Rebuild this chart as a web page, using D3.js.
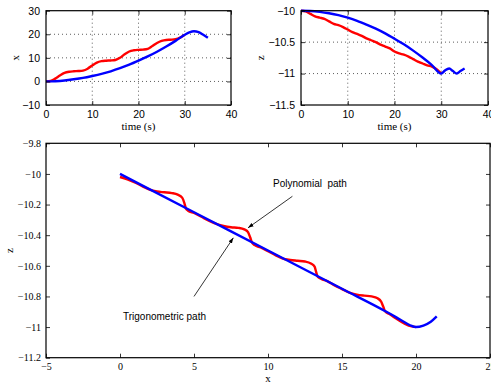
<!DOCTYPE html>
<html>
<head>
<meta charset="utf-8">
<script src="https://cdn.jsdelivr.net/npm/d3@7"></script>
<style>
  body { margin: 0; background: #fff; }
  svg { display: block; }
  .tick text { fill: #000; }
</style>
</head>
<body>
<svg id="chart" width="491" height="385"></svg>
<script>
// top-left: x vs time
const tBlueX = [0, 2, 4, 6, 8, 10, 12, 14, 16, 18, 20, 22, 24, 26, 28, 30, 31, 32, 33, 34, 35];
const xBlue  = [0, 0.1, 0.4, 0.9, 1.5, 2.3, 3.2, 4.3, 5.6, 7.1, 8.8, 10.6, 12.6, 14.8, 17.2, 19.8, 20.8, 21.3, 20.9, 19.8, 18.5];
const tRedX  = [0, 1, 2, 3, 4, 5, 6, 7, 8, 9, 10, 11, 12, 13, 14, 15, 16, 17, 18, 19, 20, 21, 22, 23, 24, 25, 26, 27, 28, 29, 30];
const xRed   = [0, 0.2, 1.2, 2.5, 3.6, 4.1, 4.3, 4.4, 4.6, 5.4, 6.8, 8.0, 8.6, 8.8, 8.9, 9.1, 10.0, 11.5, 12.7, 13.2, 13.4, 13.5, 13.8, 15.0, 16.3, 17.2, 17.6, 17.7, 17.9, 18.6, 19.8];

// top-right: z vs time
const tBlueZ = [0, 2, 4, 6, 8, 10, 12, 14, 16, 18, 20, 22, 24, 26, 28, 30, 30.8, 31.7, 32.5, 33.3, 34.1, 35];
const zBlue  = [-10, -10.004, -10.018, -10.04, -10.07, -10.11, -10.16, -10.22, -10.285, -10.36, -10.445, -10.535, -10.635, -10.745, -10.865, -11.0, -10.95, -10.92, -10.96, -11.0, -10.96, -10.92];
const tRedZ  = [0, 1, 2, 3, 4, 5, 6, 7, 8, 9, 10, 11, 12, 13, 14, 15, 16, 17, 18, 19, 20, 21, 22, 23, 24, 25, 26, 27, 28, 29, 30];
const zRed   = [-10, -10.01, -10.05, -10.09, -10.11, -10.13, -10.17, -10.21, -10.23, -10.26, -10.30, -10.34, -10.37, -10.40, -10.44, -10.47, -10.50, -10.54, -10.57, -10.60, -10.65, -10.68, -10.70, -10.73, -10.77, -10.81, -10.84, -10.87, -10.89, -10.93, -11.0];

// bottom: z vs x paths
const pathBlueX = [0, 5, 10, 15, 18, 19, 19.6, 20, 20.5, 21, 21.4];
const pathBlueZ = [-10, -10.25, -10.5, -10.75, -10.9, -10.955, -10.988, -11, -10.99, -10.965, -10.93];
const pathRedX = [0, 0.5, 1, 1.5, 2, 2.5, 3, 3.5, 3.9, 4.2, 4.35, 4.45, 4.6, 5, 5.5, 6, 6.6, 7, 7.5, 8, 8.4, 8.65, 8.8, 8.9, 9.1, 9.5, 10, 10.5, 11, 11.5, 12, 12.5, 12.9, 13.15, 13.25, 13.35, 13.6, 14, 14.5, 15, 15.5, 16, 16.5, 17, 17.4, 17.65, 17.8, 17.9, 18.2, 18.6, 19, 19.5, 20];
const pathRedZ = [-10.02, -10.035, -10.055, -10.08, -10.103, -10.115, -10.12, -10.125, -10.135, -10.155, -10.19, -10.225, -10.24, -10.255, -10.28, -10.305, -10.33, -10.34, -10.348, -10.352, -10.362, -10.38, -10.415, -10.445, -10.465, -10.48, -10.505, -10.53, -10.553, -10.562, -10.567, -10.572, -10.585, -10.605, -10.64, -10.67, -10.685, -10.70, -10.728, -10.752, -10.775, -10.788, -10.795, -10.80, -10.812, -10.835, -10.87, -10.895, -10.915, -10.94, -10.965, -10.99, -11];

const BLUE = "#0000ff";
const RED = "#ff0000";
const SANS = "'Liberation Sans', Arial, sans-serif";
const SERIF = "'Liberation Serif', 'Times New Roman', serif";

const svg = d3.select("#chart");

const zip = (xs, ys) => xs.map((v, i) => [v, ys[i]]);
const fmt = d3.format("~g");

function panel(cfg) {
    const x = d3.scaleLinear().domain(cfg.xDomain).range(cfg.xRange);
    const y = d3.scaleLinear().domain(cfg.yDomain).range(cfg.yRange);
    const g = svg.append("g");
    const [x0, x1] = cfg.xRange;
    const [y0, y1] = [cfg.yRange[1], cfg.yRange[0]];

    // dotted grid, only inner lines
    if (cfg.grid) {
        g.selectAll(".gx").data(cfg.xTicks.slice(1, -1)).enter().append("line")
            .attr("x1", d => x(d)).attr("x2", d => x(d))
            .attr("y1", y0).attr("y2", y1)
            .attr("stroke", "#333").attr("stroke-width", 0.8).attr("stroke-dasharray", "1,3");
        g.selectAll(".gy").data(cfg.yTicks.slice(1, -1)).enter().append("line")
            .attr("x1", x0).attr("x2", x1)
            .attr("y1", d => y(d)).attr("y2", d => y(d))
            .attr("stroke", "#333").attr("stroke-width", 0.8).attr("stroke-dasharray", "1,3");
    }

    const line = d3.line().x(d => x(d[0])).y(d => y(d[1])).curve(d3.curveMonotoneX);
    cfg.series.forEach(s => {
        g.append("path").datum(s.data)
            .attr("d", line)
            .attr("fill", "none")
            .attr("stroke", s.color)
            .attr("stroke-width", 2.4)
            .attr("stroke-linejoin", "round");
    });

    const axes = [
        { ax: d3.axisBottom(x).tickValues(cfg.xTicks).tickFormat(fmt), t: `translate(0,${y1})`, lab: true },
        { ax: d3.axisTop(x).tickValues(cfg.xTicks).tickFormat(""), t: `translate(0,${y0})` },
        { ax: d3.axisLeft(y).tickValues(cfg.yTicks).tickFormat(fmt), t: `translate(${x0},0)`, lab: true },
        { ax: d3.axisRight(y).tickValues(cfg.yTicks).tickFormat(""), t: `translate(${x1},0)` }
    ];
    axes.forEach(a => {
        const ag = g.append("g").attr("transform", a.t)
            .call(a.ax.tickSizeInner(-4).tickSizeOuter(0).tickPadding(a.lab ? cfg.pad : 0));
        ag.select(".domain").remove();
        ag.selectAll("line").attr("stroke", "#000").attr("stroke-width", 0.8);
        ag.selectAll("text").style("font-family", cfg.tickFont).style("font-size", cfg.tickSize);
    });

    g.append("rect")
        .attr("x", x0).attr("y", y0)
        .attr("width", x1 - x0).attr("height", y1 - y0)
        .attr("fill", "none").attr("stroke", "#000").attr("stroke-width", 1.2);

    g.append("text")
        .attr("x", (x0 + x1) / 2).attr("y", cfg.xLabelY)
        .attr("text-anchor", "middle")
        .style("font-family", SERIF).style("font-size", "11px")
        .text(cfg.xLabel);
    g.append("text")
        .attr("transform", `translate(${cfg.yLabelX},${(y0 + y1) / 2}) rotate(-90)`)
        .attr("text-anchor", "middle")
        .style("font-family", SERIF).style("font-size", "11px")
        .text(cfg.yLabel);

    return { x, y };
}

panel({
    xDomain: [0, 40], xRange: [46, 231],
    yDomain: [-10, 30], yRange: [105, 10.7],
    xTicks: [0, 10, 20, 30, 40], yTicks: [-10, 0, 10, 20, 30],
    grid: true, tickFont: SANS, tickSize: "10.5px", pad: 6,
    xLabel: "time (s)", xLabelY: 130, yLabel: "x", yLabelX: 19,
    series: [
        { data: zip(tRedX, xRed), color: RED },
        { data: zip(tBlueX, xBlue), color: BLUE }
    ]
});

panel({
    xDomain: [0, 40], xRange: [301, 488],
    yDomain: [-11.5, -10], yRange: [105, 10.7],
    xTicks: [0, 10, 20, 30, 40], yTicks: [-11.5, -11, -10.5, -10],
    grid: true, tickFont: SANS, tickSize: "10.5px", pad: 6,
    xLabel: "time (s)", xLabelY: 130, yLabel: "z", yLabelX: 264,
    series: [
        { data: zip(tRedZ, zRed), color: RED },
        { data: zip(tBlueZ, zBlue), color: BLUE }
    ]
});

const bottom = panel({
    xDomain: [-5, 25], xRange: [46, 490],
    yDomain: [-11.2, -9.8], yRange: [357.7, 143.3],
    xTicks: [-5, 0, 5, 10, 15, 20, 25], yTicks: [-11.2, -11, -10.8, -10.6, -10.4, -10.2, -10, -9.8],
    grid: false, tickFont: SERIF, tickSize: "10px", pad: 5,
    xLabel: "x", xLabelY: 382, yLabel: "z", yLabelX: 13,
    series: [
        { data: zip(pathRedX, pathRedZ), color: RED },
        { data: zip(pathBlueX, pathBlueZ), color: BLUE }
    ]
});

// annotations with arrows
svg.append("defs").append("marker")
    .attr("id", "arrow").attr("viewBox", "0 0 10 10")
    .attr("refX", 10).attr("refY", 5)
    .attr("markerWidth", 7).attr("markerHeight", 7)
    .attr("orient", "auto")
    .append("path").attr("d", "M0,1.5 L10,5 L0,8.5 z").attr("fill", "#000");

const notes = [
    { text: "Polynomial  path", tx: 273, ty: 187, from: [11.65, -10.146], to: [8.65, -10.352] },
    { text: "Trigonometric path", tx: 123, ty: 320, from: [5.0, -10.8], to: [7.66, -10.417] }
];
notes.forEach(n => {
    svg.append("line")
        .attr("x1", bottom.x(n.from[0])).attr("y1", bottom.y(n.from[1]))
        .attr("x2", bottom.x(n.to[0])).attr("y2", bottom.y(n.to[1]))
        .attr("stroke", "#000").attr("stroke-width", 0.8)
        .attr("marker-end", "url(#arrow)");
    svg.append("text")
        .attr("x", n.tx).attr("y", n.ty)
        .style("font-family", SANS).style("font-size", "10px")
        .style("white-space", "pre")
        .text(n.text);
});
</script>
</body>
</html>
